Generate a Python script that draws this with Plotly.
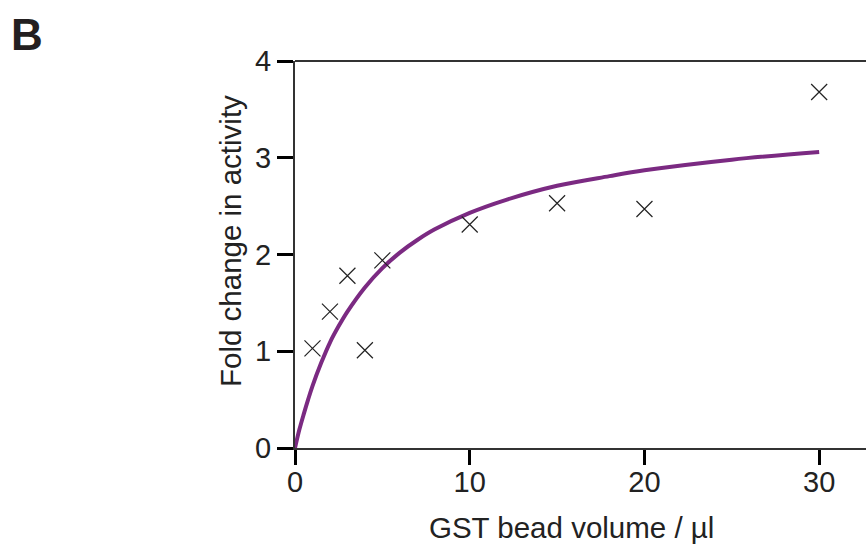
import plotly.graph_objects as go

# measured points
bead_volume = [1, 2, 3, 4, 5, 10, 15, 20, 30]
fold_change = [1.03, 1.41, 1.78, 1.01, 1.94, 2.31, 2.53, 2.47, 3.68]

# fitted curve
fit_x = [0, 0.25, 0.5, 0.75, 1, 1.5, 2, 2.5, 3, 4, 5, 6, 7, 8, 10, 12, 15,
         18, 20, 25, 30]
fit_y = [0, 0.19, 0.35, 0.50, 0.64, 0.88, 1.09, 1.26, 1.41, 1.66, 1.86, 2.02,
         2.15, 2.26, 2.43, 2.56, 2.71, 2.81, 2.87, 2.98, 3.06]

x_ticks = [0, 10, 20, 30]
y_ticks = [0, 1, 2, 3, 4]

W, H = 866, 546
L, R, T, B = 295, 0, 61, 98
pw, ph = W - L - R, H - T - B

def px2x(px):
    return (px - L) / pw

def px2y(py):
    return (H - B - py) / ph

font = "Liberation Sans, Arial, Helvetica, sans-serif"

fig = go.Figure()
fig.add_trace(go.Scatter(x=fit_x, y=fit_y, mode="lines",
                         line=dict(color="#7b2a82", width=4, shape="spline"),
                         showlegend=False))
fig.add_trace(go.Scatter(x=bead_volume, y=fold_change, mode="markers",
                         marker=dict(symbol="x-thin-open", size=16, color="#222222",
                                     line=dict(color="#222222", width=1.2)),
                         showlegend=False))

fig.update_layout(
    width=W, height=H,
    margin=dict(l=L, r=R, t=T, b=B),
    paper_bgcolor="white", plot_bgcolor="white",
    font=dict(family=font, size=29, color="#222222"),
    xaxis=dict(range=[0, 32.68], tickvals=x_ticks, ticks="outside", ticklen=15,
               tickwidth=3, tickcolor="black", showline=True, linecolor="#333333",
               linewidth=2, showgrid=False, zeroline=False,
               tickfont=dict(size=29), ticklabelstandoff=-8),
    yaxis=dict(range=[0, 4], tickvals=y_ticks, ticks="outside", ticklen=16,
               tickwidth=3, tickcolor="black", showline=True, linecolor="#333333",
               linewidth=2, showgrid=False, zeroline=False,
               tickfont=dict(size=29)),
    shapes=[dict(type="line", xref="paper", yref="paper", x0=0, x1=1, y0=1, y1=1,
                 line=dict(color="#333333", width=2))],
    annotations=[
        dict(text="Fold change in activity", xref="paper", yref="paper",
             x=px2x(230), y=px2y(241), textangle=-90, showarrow=False,
             xanchor="center", yanchor="middle", font=dict(size=29.5)),
        dict(text="GST bead volume / µl", xref="paper", yref="paper",
             x=px2x(571), y=px2y(527), showarrow=False,
             xanchor="center", yanchor="middle", font=dict(size=29.5)),
        dict(text="<b>B</b>", xref="paper", yref="paper",
             x=px2x(27), y=px2y(34), showarrow=False,
             xanchor="center", yanchor="middle", font=dict(size=44, color="#231f20")),
    ],
)

fig.write_html("out.html")
